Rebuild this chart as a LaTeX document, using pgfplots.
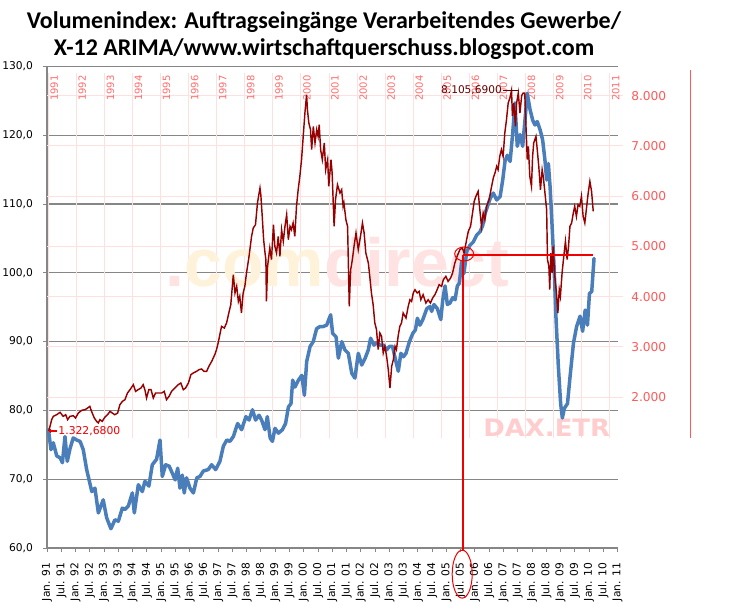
\documentclass[border=0pt]{standalone}
\usepackage{pgfplots}
\pgfplotsset{compat=1.18}
\usepackage{pgfplotstable}
\usepackage{fontspec}
\setmainfont{DejaVu Sans}
\newfontfamily\titlefont{Carlito}
\newfontfamily\arialfont{Liberation Sans}
\definecolor{exblue}{RGB}{74,126,187}
\definecolor{daxred}{RGB}{150,0,0}
\definecolor{daxdark}{RGB}{100,0,0}
\definecolor{gridgray}{RGB}{134,134,134}
\definecolor{pinkgrid}{RGB}{255,224,224}
\definecolor{pinklab}{RGB}{255,110,110}
\definecolor{axred}{RGB}{255,90,90}
\definecolor{wmpink}{RGB}{255,226,226}
\definecolor{wmorange}{RGB}{255,242,218}
\definecolor{wmdax}{RGB}{255,205,205}
\definecolor{annred}{RGB}{240,0,0}

\pgfplotstableread{
t v
1991.05 77.2
1991.14 74.3
1991.22 75.3
1991.34 73.4
1991.46 73.1
1991.54 72.4
1991.63 76.2
1991.71 72.6
1991.81 74.5
1991.92 76.0
1992.04 75.7
1992.16 75.5
1992.27 74.3
1992.39 71.4
1992.57 68.2
1992.68 68.7
1992.80 65.1
1992.97 67.0
1993.09 64.4
1993.24 62.8
1993.38 64.1
1993.50 63.9
1993.64 65.8
1993.73 65.6
1993.85 66.1
1993.99 68.0
1994.06 65.1
1994.20 69.2
1994.34 68.2
1994.43 69.7
1994.57 69.0
1994.69 72.1
1994.84 72.9
1994.96 75.7
1995.04 70.4
1995.16 72.1
1995.28 71.9
1995.39 70.9
1995.49 69.9
1995.58 71.6
1995.66 68.7
1995.74 70.6
1995.81 68.0
1995.89 70.2
1996.01 68.7
1996.13 68.0
1996.25 70.2
1996.36 70.4
1996.48 71.2
1996.65 71.4
1996.77 72.1
1996.91 71.4
1997.06 72.6
1997.18 74.8
1997.30 75.7
1997.41 75.5
1997.53 76.2
1997.68 78.1
1997.82 77.2
1997.97 79.1
1998.08 78.6
1998.20 80.1
1998.31 78.6
1998.43 79.3
1998.52 78.6
1998.64 77.2
1998.72 79.1
1998.82 76.0
1998.90 75.5
1998.99 77.4
1999.11 76.7
1999.25 77.2
1999.36 78.1
1999.46 80.5
1999.55 81.0
1999.61 84.4
1999.69 83.4
1999.81 84.4
1999.93 85.1
2000.02 82.2
2000.10 87.1
2000.22 89.3
2000.33 90.0
2000.45 91.9
2000.57 92.2
2000.68 92.2
2000.80 92.4
2000.94 93.9
2001.01 91.2
2001.13 90.7
2001.21 87.6
2001.33 90.0
2001.44 88.8
2001.56 88.3
2001.68 85.4
2001.79 84.7
2001.91 88.3
2002.03 86.6
2002.15 87.6
2002.26 88.8
2002.34 90.5
2002.46 89.5
2002.55 89.8
2002.67 89.5
2002.79 89.5
2002.90 88.8
2003.00 89.3
2003.11 89.3
2003.20 87.6
2003.31 85.7
2003.40 88.3
2003.49 87.8
2003.58 88.3
2003.70 90.0
2003.82 91.2
2003.91 91.7
2003.98 93.4
2004.07 92.4
2004.17 93.2
2004.31 94.8
2004.42 95.1
2004.48 94.4
2004.56 95.4
2004.68 94.8
2004.80 93.2
2004.87 96.1
2004.95 98.1
2005.03 95.4
2005.12 95.6
2005.22 96.4
2005.30 96.1
2005.38 98.1
2005.45 98.5
2005.53 101.6
2005.61 99.9
2005.71 103.1
2005.82 104.0
2005.94 104.5
2006.06 105.5
2006.18 106.0
2006.27 106.9
2006.35 108.6
2006.43 109.6
2006.53 110.8
2006.64 111.6
2006.76 110.6
2006.88 111.1
2006.97 113.5
2007.05 116.2
2007.13 117.1
2007.23 116.2
2007.32 120.3
2007.40 124.7
2007.48 118.4
2007.58 120.1
2007.67 118.4
2007.75 122.2
2007.83 126.1
2007.93 123.7
2008.02 122.2
2008.10 121.5
2008.18 122.0
2008.28 120.8
2008.37 119.3
2008.45 116.4
2008.51 113.5
2008.57 115.9
2008.63 112.5
2008.69 107.7
2008.77 100.9
2008.84 93.2
2008.92 86.4
2009.00 81.0
2009.06 78.9
2009.13 80.3
2009.24 81.0
2009.33 84.9
2009.45 89.8
2009.56 92.2
2009.68 93.7
2009.77 91.5
2009.86 94.6
2009.94 92.4
2010.01 97.0
2010.09 97.3
2010.17 102.1
}\bluedata

\pgfplotstableread{
t d
1991.02 1323
1991.12 1549
1991.18 1615
1991.30 1648
1991.42 1695
1991.53 1615
1991.62 1648
1991.69 1549
1991.77 1615
1991.89 1628
1991.97 1582
1992.07 1681
1992.19 1735
1992.31 1748
1992.40 1781
1992.48 1814
1992.54 1715
1992.64 1582
1992.72 1516
1992.78 1483
1992.84 1549
1992.92 1516
1993.02 1602
1993.11 1648
1993.20 1715
1993.28 1681
1993.37 1648
1993.47 1681
1993.55 1847
1993.64 1914
1993.73 1947
1993.82 2080
1993.91 2146
1993.99 2213
1994.03 2246
1994.11 2113
1994.20 2146
1994.30 2179
1994.38 2246
1994.44 2146
1994.50 1980
1994.58 2146
1994.66 2146
1994.74 1980
1994.82 2080
1994.92 2080
1995.04 2080
1995.13 2113
1995.21 1947
1995.30 2013
1995.39 2113
1995.51 2179
1995.63 2246
1995.72 2279
1995.81 2146
1995.89 2179
1995.99 2279
1996.08 2445
1996.16 2478
1996.28 2511
1996.37 2545
1996.46 2558
1996.55 2511
1996.64 2511
1996.72 2611
1996.82 2710
1996.93 2843
1996.99 2943
1997.05 3075
1997.11 3241
1997.17 3407
1997.27 3374
1997.35 3474
1997.43 3673
1997.50 3839
1997.59 4436
1997.65 4071
1997.71 4204
1997.77 3905
1997.82 4005
1997.88 3673
1997.94 4071
1998.00 4204
1998.06 4469
1998.15 4801
1998.24 5199
1998.30 5365
1998.38 5431
1998.45 5863
1998.54 6162
1998.57 6029
1998.62 5597
1998.67 5133
1998.72 4867
1998.75 4735
1998.77 3905
1998.81 4602
1998.89 4967
1998.95 4735
1999.02 5431
1999.07 5000
1999.13 4867
1999.19 5199
1999.25 4801
1999.31 5332
1999.37 5100
1999.43 5398
1999.49 5631
1999.55 5133
1999.61 5398
1999.66 5332
1999.72 5465
1999.78 5199
1999.84 5796
1999.90 6128
1999.96 6394
2000.02 6726
2000.08 7190
2000.14 7655
2000.20 8020
2000.23 7721
2000.28 7456
2000.34 7323
2000.38 6925
2000.44 7389
2000.50 7058
2000.56 7323
2000.61 7190
2000.65 7423
2000.70 6925
2000.76 6726
2000.83 7058
2000.88 6527
2000.95 6726
2000.99 6195
2001.07 6726
2001.11 6460
2001.18 5398
2001.23 5929
2001.30 6228
2001.39 6062
2001.45 6128
2001.50 5796
2001.53 5863
2001.60 5531
2001.66 5398
2001.72 3806
2001.77 4536
2001.83 4735
2001.89 5000
2001.96 5266
2002.04 4934
2002.12 5199
2002.19 5465
2002.25 5266
2002.31 4867
2002.40 4668
2002.45 4403
2002.51 4071
2002.57 3839
2002.63 3474
2002.69 3341
2002.75 2943
2002.81 3274
2002.87 3208
2002.93 2876
2002.99 3009
2003.05 2810
2003.11 2545
2003.17 2179
2003.23 2611
2003.29 2744
2003.35 3009
2003.40 2943
2003.46 3208
2003.52 3407
2003.58 3474
2003.64 3673
2003.74 3573
2003.82 3806
2003.88 3938
2003.94 3905
2004.00 4071
2004.06 4137
2004.14 4071
2004.21 4104
2004.27 3938
2004.35 4038
2004.45 3872
2004.53 3938
2004.61 3872
2004.69 3972
2004.77 4038
2004.85 4137
2004.92 4237
2005.01 4204
2005.07 4336
2005.16 4403
2005.24 4303
2005.33 4370
2005.40 4469
2005.48 4668
2005.56 4801
2005.66 4934
2005.75 4967
2005.81 4867
2005.90 5133
2005.96 5299
2006.04 5398
2006.11 5664
2006.17 5896
2006.23 5996
2006.31 6095
2006.37 5730
2006.43 5398
2006.49 5664
2006.55 5531
2006.61 5796
2006.70 5929
2006.79 6195
2006.85 6361
2006.91 6460
2006.97 6593
2007.02 6527
2007.08 6792
2007.14 6925
2007.20 6792
2007.26 7257
2007.32 7522
2007.38 7854
2007.44 7950
2007.50 8105.69
2007.53 7600
2007.58 7850
2007.64 7389
2007.68 7854
2007.74 8053
2007.80 7655
2007.86 8000
2007.91 8050
2007.97 8053
2008.01 7456
2008.06 6726
2008.10 6992
2008.15 6394
2008.21 6195
2008.25 6792
2008.29 7058
2008.37 7190
2008.41 6958
2008.47 6593
2008.53 6128
2008.59 6527
2008.63 6394
2008.69 6062
2008.75 5730
2008.78 4735
2008.83 4602
2008.86 4137
2008.90 4867
2008.95 4469
2008.98 5000
2009.04 4403
2009.10 4071
2009.15 3673
2009.20 4137
2009.24 4005
2009.30 4469
2009.36 4801
2009.42 5100
2009.48 4735
2009.53 5000
2009.58 5398
2009.64 5465
2009.70 5664
2009.75 5796
2009.81 5597
2009.87 5830
2009.93 5796
2009.99 5996
2010.05 5597
2010.11 5465
2010.17 5763
2010.23 6062
2010.29 6294
2010.35 6095
2010.41 5697
}\daxdata

\begin{document}
\begin{tikzpicture}
\useasboundingbox (0pt,0pt) rectangle (371.5pt,302.5pt);

% title
\node[anchor=base, inner sep=0, font=\titlefont\bfseries\fontsize{12}{14}\selectfont] at (162pt,288pt) {Volumenindex: Auftragseingänge Verarbeitendes Gewerbe/};
\node[anchor=base, inner sep=0, font=\titlefont\bfseries\fontsize{12}{14}\selectfont] at (162pt,274.5pt) {X-12 ARIMA/www.wirtschaftquerschuss.blogspot.com};

% Excel axis: grid, axis lines, ticks, labels
\begin{axis}[
  anchor=south west, at={(23.5pt,28.5pt)},
  width=285.35pt, height=240.75pt, scale only axis,
  xmin=1991, xmax=2011, ymin=60, ymax=130,
  axis lines*=left,
  axis line style={draw=gridgray, line width=0.6pt},
  tick align=outside, major tick length=2pt,
  tick style={draw=gridgray, line width=0.5pt},
  ymajorgrids, grid style={draw=gridgray, line width=0.6pt},
  ytick={60,70,...,130},
  yticklabels={{60,0},{70,0},{80,0},{90,0},{100,0},{110,0},{120,0},{130,0}},
  yticklabel style={font=\fontsize{5.35}{6}\selectfont, text=black, xshift=-1.5pt},
  xtick={1991,1991.5,...,2011},
  xticklabels={Jan. 91, Jul. 91, Jan. 92, Jul. 92, Jan. 93, Jul. 93, Jan. 94, Jul. 94, Jan. 95, Jul. 95, Jan. 96, Jul. 96, Jan. 97, Jul. 97, Jan. 98, Jul. 98, Jan. 99, Jul. 99, Jan. 00, Jul. 00, Jan. 01, Jul. 01, Jan. 02, Jul. 02, Jan. 03, Jul. 03, Jan. 04, Jul. 04, Jan. 05, Jul. 05, Jan. 06, Jul. 06, Jan. 07, Jul. 07, Jan. 08, Jul. 08, Jan. 09, Jul. 09, Jan. 10, Jul. 10, Jan. 11},
  xticklabel style={rotate=90, anchor=east, font=\fontsize{5.35}{6}\selectfont, text=black},
  xticklabel shift=2pt,
]
\end{axis}

% DAX axis: pink grid, labels, watermarks
\begin{axis}[
  anchor=south west, at={(23.5pt,83.5pt)},
  width=288pt, height=182.5pt, scale only axis,
  xmin=1990.954, xmax=2011.47, ymin=1184, ymax=8452,
  axis line style={draw=none}, major tick length=0pt,
  xmajorgrids, ymajorgrids, grid style={draw=pinkgrid, line width=0.5pt},
  xtick={1991,1992,...,2011}, xticklabels={},
  ytick={2000,3000,...,8000},
  yticklabels={2.000,3.000,4.000,5.000,6.000,7.000,8.000},
  yticklabel pos=right,
  yticklabel style={anchor=west, font=\fontsize{6.1}{7}\selectfont, text=axred, xshift=0.6pt},
  clip=false,
]
\pgfplotsinvokeforeach{1991,1992,...,2011}{
  \node[rotate=90, anchor=north east, inner sep=0, font=\fontsize{5}{5.5}\selectfont, text=pinklab] at ([xshift=0.9pt,yshift=-1pt]axis cs:#1,8452) {#1};
}
\node[anchor=base west, inner sep=0, font=\arialfont\bfseries\fontsize{34}{36}\selectfont] at (axis cs:1995.16,4191) {\textcolor{wmpink}{.}\textcolor{wmorange}{com}\textcolor{wmpink}{direct}};
\node[anchor=base west, inner sep=0, xscale=1.08, font=\bfseries\fontsize{12}{14}\selectfont, text=wmdax] at (axis cs:2006.48,1204) {DAX.ETR};
\end{axis}

% right frame line of the DAX chart
\draw[axred, line width=0.5pt] (345pt,267.5pt) -- (345pt,83.5pt);

% Excel series
\begin{axis}[
  anchor=south west, at={(23.5pt,28.5pt)},
  width=285.35pt, height=240.75pt, scale only axis,
  xmin=1991, xmax=2011, ymin=60, ymax=130,
  hide axis, clip=false,
]
\addplot[exblue, line width=1.75pt, line join=round, line cap=round] table[x=t,y=v] {\bluedata};
\end{axis}

% DAX series
\begin{axis}[
  anchor=south west, at={(23.5pt,83.5pt)},
  width=288pt, height=182.5pt, scale only axis,
  xmin=1990.954, xmax=2011.47, ymin=1184, ymax=8452,
  hide axis, clip=false,
]
\addplot[daxred, line width=0.72pt, line join=miter] table[x=t,y=d] {\daxdata};
\coordinate (dstart) at (axis cs:1991.02,1323);
\coordinate (dmax) at (axis cs:2007.19,8106);
\coordinate (dmaxend) at (axis cs:2007.73,8106);
\end{axis}
\draw[annred, line width=0.55pt] (dstart) -- ([xshift=4pt]dstart);
\draw[annred, line width=0.55pt] ([xshift=0.6pt,yshift=-1.2pt]dstart) -- ([xshift=0.6pt,yshift=1.2pt]dstart);
\node[anchor=west, inner sep=0, font=\fontsize{5.4}{6}\selectfont, text=annred] at ([xshift=4.6pt]dstart) {1.322,6800};
\draw[daxdark, line width=0.5pt] (dmax) -- (dmaxend);
\node[anchor=east, inner sep=0.3pt, font=\fontsize{5.3}{6}\selectfont, text=daxdark] at (dmax) {8.105,6900};

% red annotations on the Excel scale
\begin{axis}[
  anchor=south west, at={(23.5pt,28.5pt)},
  width=285.35pt, height=240.75pt, scale only axis,
  xmin=1991, xmax=2011, ymin=60, ymax=130,
  hide axis, clip=false,
]
\coordinate (hl1) at (axis cs:2005.58,102.6);
\coordinate (hl2) at (axis cs:2010.14,102.6);
\coordinate (vl2) at (axis cs:2005.58,59.6);
\coordinate (e1) at (axis cs:2005.62,102.75);
\coordinate (e2) at (axis cs:2005.55,56.2);
\end{axis}
\draw[annred, line width=0.55pt] (hl1) -- (hl2);
\draw[annred, line width=0.55pt] (hl1) -- (vl2);
\draw[annred, line width=0.5pt] (e1) ellipse [x radius=4.75pt, y radius=3.5pt];
\draw[annred, line width=0.5pt] (e2) ellipse [x radius=5pt, y radius=12pt];
\end{tikzpicture}
\end{document}
